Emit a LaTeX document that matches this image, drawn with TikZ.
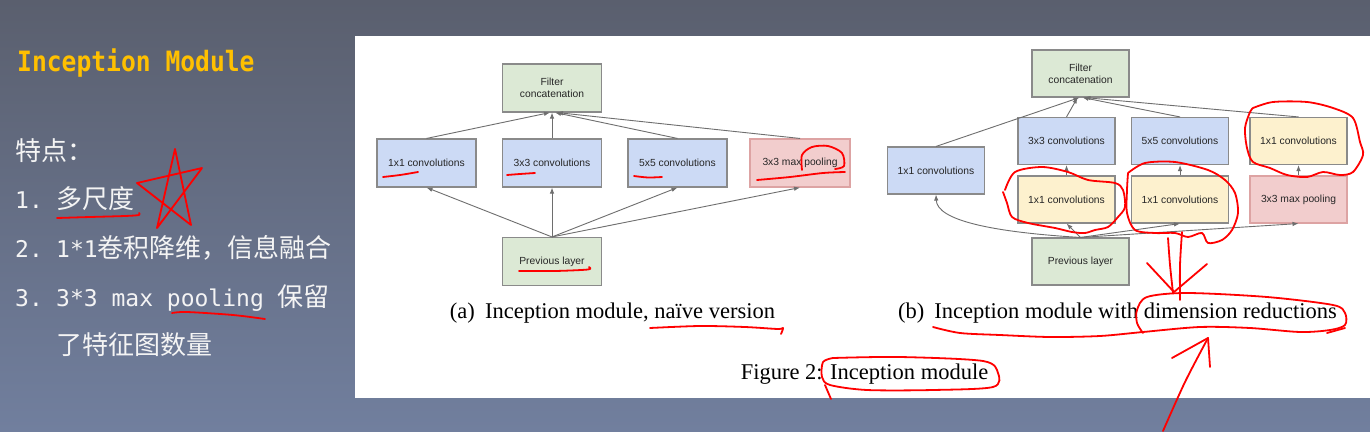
\documentclass[tikz,border=0pt]{standalone}
\usepackage{fontspec}
\usepackage{tikz}
\usetikzlibrary{arrows.meta}
\setmainfont{Liberation Serif}
\newfontfamily\cjk{Noto Sans CJK SC}
\newfontfamily\slidemono{DejaVu Sans Mono}
\newfontfamily\boxfont{Liberation Sans}
\newcommand{\zhtext}{\cjk\fontsize{26}{30}\selectfont}
\newcommand{\entext}{\slidemono\fontsize{23}{30}\selectfont}
\definecolor{bgtop}{HTML}{5A5F6E}
\definecolor{bgbottom}{HTML}{717F9E}
\definecolor{headorange}{HTML}{FFC000}
\definecolor{slidewhite}{HTML}{F4F4F4}
\definecolor{boxline}{HTML}{8A8A8A}
\definecolor{linkgray}{HTML}{6E6E6E}
\definecolor{convblue}{HTML}{CCDAF5}
\definecolor{layergreen}{HTML}{DCE9D5}
\definecolor{poolred}{HTML}{F2CDCD}
\definecolor{poolline}{HTML}{DDA3A3}
\definecolor{reduceyellow}{HTML}{FDF1CE}
\tikzstyle{block}=[draw=boxline, line width=1.1pt, inner sep=0pt, align=center,
    text=black!85, font=\boxfont\fontsize{10.3}{11.7}\selectfont,
    minimum width=99pt, minimum height=48pt]
\tikzstyle{small}=[minimum width=97pt, minimum height=47pt]
\tikzstyle{conv}=[block, fill=convblue]
\tikzstyle{layer}=[block, fill=layergreen]
\tikzstyle{reduce}=[block, fill=reduceyellow]
\tikzstyle{pool}=[block, fill=poolred, draw=poolline]
\tikzstyle{link}=[draw=linkgray, line width=0.9pt, -{Latex[length=6pt,width=4.5pt]}]
\tikzstyle{caption}=[anchor=base, inner sep=0pt, text=black, font=\fontsize{22.5}{24}\selectfont]
\tikzstyle{slidetext}=[anchor=base west, inner sep=0pt, text=slidewhite]
\tikzstyle{ink}=[draw=red, line width=1.8pt, line cap=round, line join=round]

\begin{document}
\begin{tikzpicture}[x=1pt, y=-1pt]
  \useasboundingbox (0,0) rectangle (1370,431);
  \shade[top color=bgtop, bottom color=bgbottom] (0,0) rectangle (1370,431);
  \fill[white] (355,36) rectangle (1370,398);

  % slide text
  \node[anchor=base west, inner sep=0pt, text=headorange] (title) at (17,71)
    {\scalebox{0.88}[1]{\slidemono\bfseries\fontsize{28}{30}\selectfont Inception Module}};
  \node[slidetext] (pt0) at (15,160){\zhtext 特点：};
  \node[slidetext] (pt1) at (15,208){\makebox[41pt][l]{\entext 1.}\zhtext 多尺度};
  \node[slidetext] (pt2) at (15,257){\makebox[41pt][l]{\entext 2.}{\entext 1*1}\zhtext 卷积降维，信息融合};
  \node[slidetext] (pt3) at (15,306){\makebox[41pt][l]{\entext 3.}{\entext 3*3 max pooling }\zhtext 保留};
  \node[slidetext] (pt4) at (56,354){\zhtext 了特征图数量};

  % (a) naive version
  \node[layer] (catA) at (552,88){Filter\\concatenation};
  \node[conv] (c1A) at (426.5,163){1x1 convolutions};
  \node[conv] (c3A) at (552,163){3x3 convolutions};
  \node[conv] (c5A) at (677.5,163){5x5 convolutions};
  \node[pool, minimum width=100pt] (poolA) at (800,163){3x3 max pooling};
  \node[layer] (prevA) at (552,261.5){Previous layer};
  \draw[link](prevA.north) -- (c1A.south);
  \draw[link](prevA.north) -- (c3A.south);
  \draw[link](prevA.north) -- (c5A.south);
  \draw[link](prevA.north) -- (poolA.south);
  \draw[link](c1A.north) -- ([xshift=-2pt]catA.south);
  \draw[link](c3A.north) -- (catA.south);
  \draw[link](c5A.north) -- ([xshift=3pt]catA.south);
  \draw[link](poolA.north) -- ([xshift=5pt]catA.south);

  % (b) with dimension reductions
  \node[layer, small] (catB) at (1080.5,73.5){Filter\\concatenation};
  \node[conv, small] (c1B) at (936,170.5){1x1 convolutions};
  \node[conv, small] (c3B) at (1066.5,141){3x3 convolutions};
  \node[conv, small] (c5B) at (1180,141){5x5 convolutions};
  \node[reduce, small] (r1B) at (1298.5,141){1x1 convolutions};
  \node[reduce, small] (r3B) at (1066.5,199.5){1x1 convolutions};
  \node[reduce, small] (r5B) at (1180,199.5){1x1 convolutions};
  \node[pool, small] (poolB) at (1298.5,199.5){3x3 max pooling};
  \node[layer, small] (prevB) at (1080.5,261.5){Previous layer};
  \draw[link](prevB.north) .. controls (990,232) and (937,220) .. (c1B.south);
  \draw[link](prevB.north) -- (r3B.south);
  \draw[link](prevB.north) -- (r5B.south);
  \draw[link](prevB.north) -- (poolB.south);
  \draw[link](r3B) -- (c3B);
  \draw[link](r5B) -- (c5B);
  \draw[link](poolB) -- (r1B);
  \draw[link](c1B.north) -- ([xshift=-1pt]catB.south);
  \draw[link](c3B.north) -- ([xshift=-3pt]catB.south);
  \draw[link](c5B.north) -- ([xshift=2pt]catB.south);
  \draw[link](r1B.north) -- ([xshift=4pt]catB.south);

  % captions
  \node[caption] (capA) at (612.5,318){(a)\hspace{0.45em}Inception module, naïve version};
  \node[caption] (capB) at (1117.5,318){(b)\hspace{0.45em}Inception module with dimension reductions};
  \node[caption] (capFig) at (864.5,379){Figure 2: Inception module};

  % red pen marks
  \draw[ink] plot[smooth, tension=0.5] coordinates {(57,218) (90,217) (125,216) (139,215) (139,213)};
  \draw[ink] (175,149) -- (157,228) -- (162,221) (157,228) -- (202,168) -- (137,183) -- (191,225) -- (175,149);
  \draw[ink] plot[smooth, tension=0.5] coordinates {(172,313) (187,312) (233,315) (265,319)};
  \draw[ink] plot[smooth, tension=0.5] coordinates {(383,177) (400,175) (418,172)};
  \draw[ink] plot[smooth, tension=0.5] coordinates {(507,175) (520,174) (535,173)};
  \draw[ink] plot[smooth, tension=0.5] coordinates {(634,176) (648,177.5) (662,177)};
  \draw[ink] plot[smooth, tension=0.5] coordinates {(757,180) (790,177) (823,173) (845,172)};
  \draw[ink] plot[smooth, tension=0.5] coordinates {(802,170) (802,155) (812,147) (828,146) (842,153) (844,166) (835,169)};
  \draw[ink] plot[smooth, tension=0.5] coordinates {(519,271) (555,271) (588,269.5) (589,267)};
  \draw[ink] plot[smooth, tension=0.5] coordinates {(650,328) (700,326) (745,327) (778,329) (783,328) (781,334)};
  \draw[ink] plot[smooth, tension=0.5] coordinates {(1005,190) (1015,172) (1042,167) (1068,172)
    (1088,180) (1115,183) (1123,190) (1125,207) (1118,217) (1108,227) (1095,230) (1085,233)
    (1072,232) (1055,228) (1028,223) (1012,217) (1007,203) (1003,192)};
  \draw[ink] plot[smooth, tension=0.5] coordinates {(1128,173) (1145,163) (1175,162) (1208,170)
    (1225,180) (1235,193) (1238,213) (1232,230) (1222,240) (1208,243) (1202,233) (1188,237)
    (1175,233) (1155,233) (1135,230) (1127,213) (1127,190) (1128,173)};
  \draw[ink] plot[smooth, tension=0.5] coordinates {(1253,108) (1273,102) (1307,102) (1333,108)
    (1353,118) (1360,142) (1363,155) (1353,172) (1340,175) (1323,172) (1307,177) (1287,175)
    (1270,168) (1253,162) (1247,148) (1245,128) (1250,112) (1253,108)};
  \draw[ink] plot[smooth, tension=0.5] coordinates {(1168,238) (1170,265) (1173,293)};
  \draw[ink] plot[smooth, tension=0.5] coordinates {(1182,232) (1180,265) (1180,300)};
  \draw[ink] (1147,263) -- (1174,292) -- (1207,264);
  \draw[ink] plot[smooth, tension=0.5] coordinates {(933,327) (960,333) (1000,335) (1050,337)
    (1100,336) (1143,332) (1200,327) (1250,328) (1300,332) (1330,330) (1345,325) (1345,313)
    (1333,305) (1267,297) (1187,293) (1147,297) (1137,310) (1137,323) (1143,333)};
  \draw[ink] (1327,333) -- (1345,328);
  \draw[ink] plot[smooth, tension=0.5] coordinates {(1163,431) (1185,382) (1208,338)};
  \draw[ink] (1172,358) -- (1208,338) -- (1210,367);
  \draw[ink] plot[smooth, tension=0.5] coordinates {(833,358) (900,357) (983,361) (998,373)
    (993,387) (933,390) (867,390) (830,385) (822,377) (823,362) (833,358)};
  \draw[ink] (825,385) -- (831,399);
\end{tikzpicture}
\end{document}
